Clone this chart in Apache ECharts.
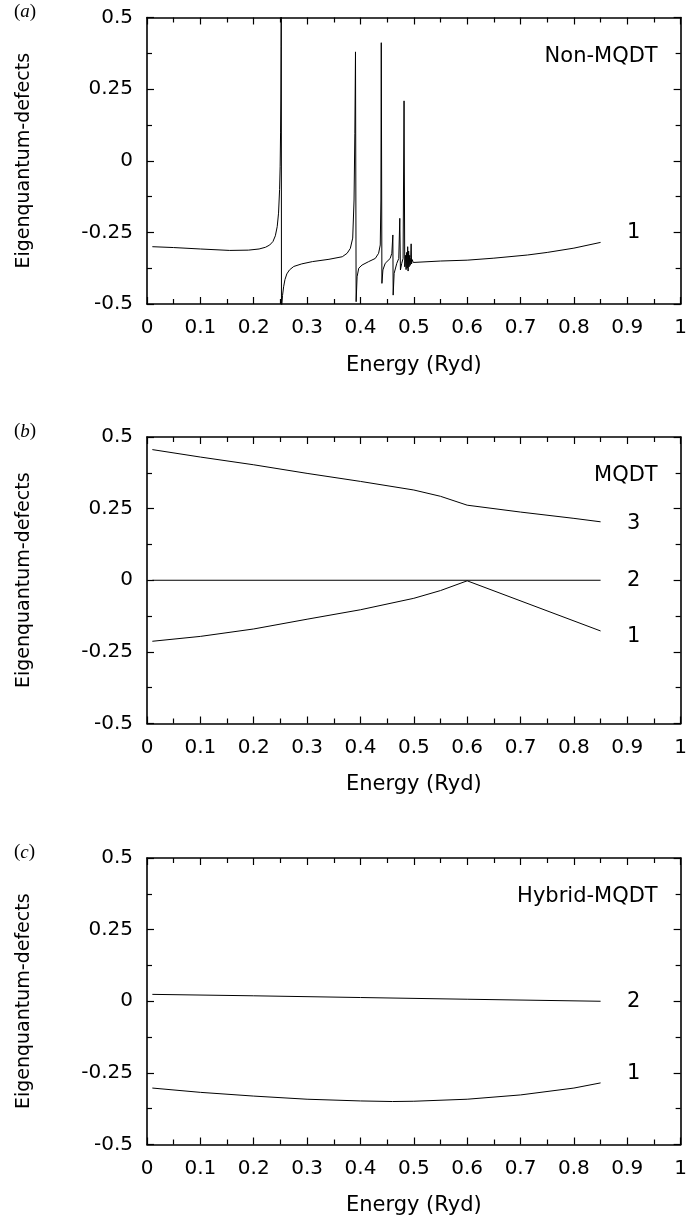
<!DOCTYPE html>
<html>
<head>
<meta charset="utf-8">
<title>Eigenquantum-defects</title>
<script src="https://cdn.jsdelivr.net/npm/echarts@6.0.0/dist/echarts.min.js"></script>
<style>
    html, body { margin: 0; padding: 0; background: #fff; }
    #chart { width: 690px; height: 1232px; }
</style>
</head>
<body>
<div id="chart"></div>
<script>
// (a) Non-MQDT, channel 1: [energy (Ryd), eigenquantum defect]
const nonMqdtCurve1 = [
    [0.010, -0.300], [0.050, -0.303], [0.100, -0.308], [0.155, -0.313], [0.190, -0.312],
    [0.210, -0.308], [0.222, -0.302], [0.230, -0.294], [0.236, -0.282], [0.2405, -0.262],
    [0.2440, -0.230], [0.2465, -0.183], [0.2485, -0.100], [0.2495, -0.021], [0.2503, 0.100],
    [0.2508, 0.212], [0.2512, 0.400], [0.2514, 0.500], [0.2516, 0.650],
    [0.2520, -0.650], [0.2528, -0.500], [0.2540, -0.470], [0.2560, -0.440], [0.2585, -0.415],
    [0.2620, -0.395], [0.2670, -0.381], [0.2750, -0.369], [0.2900, -0.360], [0.3100, -0.352],
    [0.3410, -0.344], [0.3660, -0.335], [0.3750, -0.323], [0.3810, -0.306], [0.3855, -0.270],
    [0.3880, -0.137], [0.3895, 0.096], [0.3907, 0.380],
    [0.3919, -0.492], [0.3937, -0.405], [0.3968, -0.375], [0.4030, -0.364], [0.4154, -0.352],
    [0.4278, -0.341], [0.4340, -0.323], [0.4371, -0.294], [0.4383, -0.137], [0.4390, 0.412],
    [0.4402, -0.428], [0.4421, -0.381], [0.4464, -0.358], [0.4557, -0.341], [0.4588, -0.323],
    [0.4607, -0.259], [0.4613, -0.469], [0.4631, -0.393], [0.4681, -0.358], [0.4718, -0.341],
    [0.4737, -0.201], [0.4749, -0.381], [0.4774, -0.358], [0.4799, -0.341], [0.4817, 0.209],
    [0.4830, -0.370], [0.4845, -0.330], [0.4855, -0.380], [0.4865, -0.320], [0.4875, -0.375],
    [0.4885, -0.300], [0.4893, -0.385], [0.4903, -0.315], [0.4912, -0.370], [0.4922, -0.330],
    [0.4932, -0.365], [0.4942, -0.338], [0.4950, -0.290], [0.4958, -0.360], [0.4970, -0.345],
    [0.4990, -0.355], [0.5022, -0.352],
    [0.550, -0.350], [0.600, -0.347], [0.650, -0.340], [0.713, -0.329], [0.750, -0.320],
    [0.800, -0.305], [0.850, -0.285],
];

// (b) MQDT, channels 1-3
const mqdtCurve1 = [
    [0.01, -0.213], [0.10, -0.196], [0.20, -0.170], [0.30, -0.136], [0.40, -0.103],
    [0.50, -0.063], [0.55, -0.036], [0.60, -0.002], [0.85, -0.177],
];
const mqdtCurve2 = [[0.01, 0.0], [0.85, 0.0]];
const mqdtCurve3 = [
    [0.01, 0.456], [0.10, 0.430], [0.20, 0.403], [0.30, 0.373], [0.40, 0.345],
    [0.50, 0.315], [0.55, 0.293], [0.60, 0.262], [0.70, 0.238], [0.80, 0.216], [0.85, 0.204],
];

// (c) Hybrid-MQDT, channels 1-2
const hybridCurve1 = [
    [0.01, -0.303], [0.10, -0.318], [0.20, -0.331], [0.30, -0.342], [0.40, -0.348],
    [0.46, -0.350], [0.50, -0.349], [0.60, -0.342], [0.70, -0.327], [0.80, -0.303], [0.85, -0.285],
];
const hybridCurve2 = [[0.01, 0.024], [0.20, 0.019], [0.40, 0.013], [0.60, 0.007], [0.85, 0.0]];

// method names (right end at the point) and channel numbers (centred): [text, energy, defect]
const nonMqdtTag = ['Non-MQDT', 0.957, 0.365];
const mqdtTag = ['MQDT', 0.957, 0.365];
const hybridTag = ['Hybrid-MQDT', 0.957, 0.365];
const nonMqdtChannels = [['1', 0.912, -0.252]];
const mqdtChannels = [['3', 0.912, 0.198], ['2', 0.912, 0.0], ['1', 0.912, -0.196]];
const hybridChannels = [['2', 0.912, 0.0], ['1', 0.912, -0.252]];

const panelLetters = ['a', 'b', 'c'];
const xTitle = 'Energy (Ryd)';
const yTitle = 'Eigenquantum-defects';

const panels = [
    { curves: [nonMqdtCurve1], tag: nonMqdtTag, channels: nonMqdtChannels },
    { curves: [mqdtCurve1, mqdtCurve2, mqdtCurve3], tag: mqdtTag, channels: mqdtChannels },
    { curves: [hybridCurve1, hybridCurve2], tag: hybridTag, channels: hybridChannels },
];

const FONT = '"DejaVu Sans", Arial, sans-serif';
const PANEL_TOPS = [17.5, 437, 858];
const PANEL_HEIGHT = 286.5;

const chart = echarts.init(document.getElementById('chart'), null, { renderer: 'canvas' });

function frameAxis(kind, gridIndex, position, main) {
    const isX = kind === 'x';
    return {
        type: 'value',
        gridIndex,
        position,
        min: isX ? 0 : -0.5,
        max: isX ? 1 : 0.5,
        interval: isX ? 0.1 : 0.25,
        axisLine: { show: true, onZero: false, lineStyle: { color: '#000', width: 1.6 } },
        axisTick: { show: true, inside: true, length: 7, lineStyle: { color: '#000', width: 1.2 } },
        minorTick: { show: true, splitNumber: 2, length: 5, lineStyle: { color: '#000', width: 1.2 } },
        splitLine: { show: false },
        axisLabel: {
            show: main,
            color: '#000',
            fontFamily: FONT,
            fontSize: 20,
            margin: 14,
        },
        name: main ? (isX ? xTitle : yTitle) : '',
        nameLocation: 'middle',
        nameGap: isX ? 51 : 113,
        nameTextStyle: {
            color: '#000',
            fontFamily: FONT,
            fontSize: isX ? 21 : 19,
        },
    };
}

function textItem([text, x, y], isTag) {
    return {
        name: text,
        value: [x, y],
        label: isTag ? { position: 'left', distance: 0 } : { position: 'inside' },
    };
}

const grids = [];
const xAxes = [];
const yAxes = [];
const series = [];

panels.forEach((panel, i) => {
    grids.push({ left: 147, right: 5, top: PANEL_TOPS[i], height: PANEL_HEIGHT });

    xAxes.push(frameAxis('x', i, 'bottom', true));
    xAxes.push(frameAxis('x', i, 'top', false));
    yAxes.push(frameAxis('y', i, 'left', true));
    yAxes.push(frameAxis('y', i, 'right', false));

    panel.curves.forEach((curve) => {
        series.push({
            type: 'line',
            xAxisIndex: i * 2,
            yAxisIndex: i * 2,
            data: curve,
            showSymbol: false,
            symbol: 'none',
            clip: true,
            lineStyle: { color: '#000', width: 1 },
            silent: true,
        });
    });

    series.push({
        type: 'scatter',
        xAxisIndex: i * 2,
        yAxisIndex: i * 2,
        symbolSize: 0,
        silent: true,
        itemStyle: { opacity: 1, color: '#000' },
        data: [textItem(panel.tag, true), ...panel.channels.map((c) => textItem(c, false))],
        label: {
            show: true,
            formatter: '{b}',
            color: '#000',
            fontFamily: FONT,
            fontSize: 21,
        },
    });
});

chart.setOption({
    animation: false,
    backgroundColor: '#fff',
    grid: grids,
    xAxis: xAxes,
    yAxis: yAxes,
    series,
    graphic: panelLetters.map((letter, i) => ({
        type: 'text',
        left: 14,
        top: PANEL_TOPS[i] - 15,
        style: {
            text: `{p|(}{l|${letter}}{p|)}`,
            rich: {
                p: { fontFamily: '"Liberation Serif", serif', fontSize: 19, fill: '#000' },
                l: { fontFamily: '"Liberation Serif", serif', fontSize: 19, fontStyle: 'italic', fill: '#000' },
            },
        },
    })),
});
</script>
</body>
</html>
